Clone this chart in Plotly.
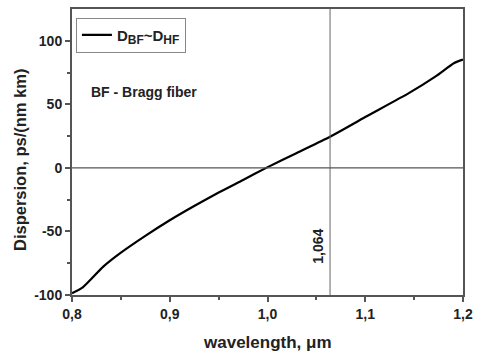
import plotly.graph_objects as go

wavelength = [0.80, 0.811, 0.832, 0.849, 0.875, 0.90, 0.925, 0.951, 0.975, 0.9987,
              1.03, 1.064, 1.10, 1.145, 1.172, 1.191, 1.20]
dispersion = [-98.7, -94.0, -77.7, -67.3, -53.5, -41.2, -30.0, -19.0, -9.5, 0.0,
              11.8, 24.5, 40.0, 59.0, 72.0, 82.5, 85.2]

x_tickvals = [0.8, 0.9, 1.0, 1.1, 1.2]
x_ticktext = ["0,8", "0,9", "1,0", "1,1", "1,2"]
x_minor = [0.85, 0.95, 1.05, 1.15]
y_tickvals = [-100, -50, 0, 50, 100]
y_ticktext = ["-100", "-50", "0", "50", "100"]
y_minor = [-75, -25, 25, 75]

marker_wl = 1.064
marker_label = "1,064"
series_name = "D<sub><span style='font-size:12px'>BF</span></sub>~D<sub><span style='font-size:12px'>HF</span></sub>"
note_text = "BF - Bragg fiber"
x_title = "wavelength, μm"
y_title = "Dispersion, ps/(nm km)"

FONT = "Liberation Sans, Arial, sans-serif"
AX = "#555555"
TXT = "#222222"

fig = go.Figure()
fig.add_trace(go.Scatter(x=wavelength, y=dispersion, mode="lines",
                         line=dict(color="black", width=2.2, shape="spline", smoothing=0.6),
                         name=series_name, showlegend=True))

fig.add_shape(type="line", xref="x", yref="paper", x0=marker_wl, x1=marker_wl, y0=0, y1=1,
              line=dict(color="#666666", width=1))
fig.add_shape(type="line", xref="paper", yref="y", x0=0, x1=1, y0=0, y1=0,
              line=dict(color="#555555", width=1.2))

fig.add_annotation(x=marker_wl, y=-62, xref="x", yref="y", text="<b>" + marker_label + "</b>",
                   textangle=-90, showarrow=False, xanchor="right", xshift=-2,
                   font=dict(family=FONT, size=14, color=TXT))
fig.add_annotation(x=0.8175, y=60, xref="x", yref="y", text="<b>" + note_text + "</b>",
                   showarrow=False, xanchor="left", font=dict(family=FONT, size=14, color=TXT))

fig.add_annotation(x=0.5, y=0, xref="paper", yref="paper", yshift=-47,
                   text="<b>" + x_title + "</b>", showarrow=False, xanchor="center", yanchor="middle",
                   font=dict(family=FONT, size=17, color=TXT))
fig.add_annotation(x=0, y=0.5, xref="paper", yref="paper", xshift=-52, yshift=-8,
                   text="<b>" + y_title + "</b>", textangle=-90, showarrow=False,
                   xanchor="center", yanchor="middle",
                   font=dict(family=FONT, size=16.5, color=TXT))

fig.update_layout(
    width=480, height=351,
    margin=dict(l=72, r=16, t=7, b=56),
    paper_bgcolor="white", plot_bgcolor="white",
    font=dict(family=FONT, size=13, color=TXT, weight="bold"),
    showlegend=True,
    legend=dict(x=0.01, y=0.97, xanchor="left", yanchor="top",
                bordercolor="#888", borderwidth=1, bgcolor="white",
                font=dict(family=FONT, size=15, color=TXT),
                tracegroupgap=0, itemwidth=30),
)
fig.update_xaxes(
    range=[0.8, 1.2], tickmode="array", tickvals=x_tickvals, ticktext=x_ticktext,
    showgrid=False, zeroline=False, showline=True, mirror=True, linecolor=AX, linewidth=2,
    ticks="outside", ticklen=5, tickwidth=1.5, tickcolor=AX,
    tickfont=dict(family=FONT, size=14, color=TXT, weight="bold"),
    minor=dict(tickmode="array", tickvals=x_minor, ticks="outside", ticklen=3, tickcolor=AX, tickwidth=1.5, showgrid=False),
)
fig.update_yaxes(
    range=[-100, 125], tickmode="array", tickvals=y_tickvals, ticktext=y_ticktext,
    showgrid=False, zeroline=False, showline=True, mirror=True, linecolor=AX, linewidth=2,
    ticks="outside", ticklen=5, tickwidth=1.5, tickcolor=AX,
    tickfont=dict(family=FONT, size=14, color=TXT, weight="bold"),
    minor=dict(tickmode="array", tickvals=y_minor, ticks="outside", ticklen=3, tickcolor=AX, tickwidth=1.5, showgrid=False),
)

fig.write_html("out.html")
